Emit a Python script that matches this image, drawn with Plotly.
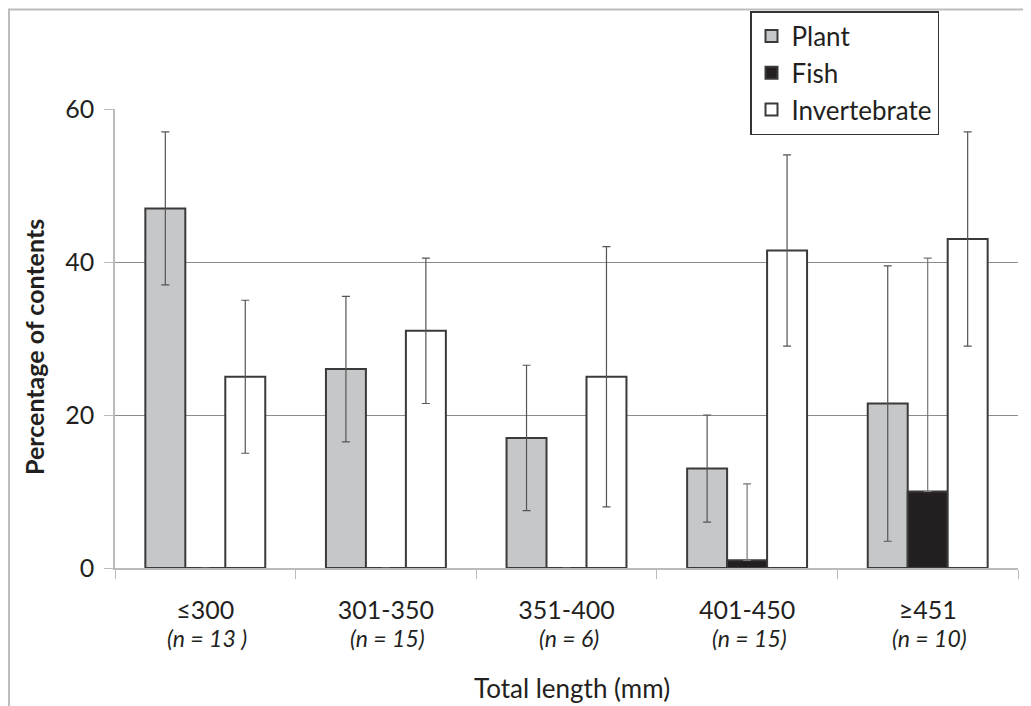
import plotly.graph_objects as go

categories = ["≤300", "301-350", "351-400", "401-450", "≥451"]
n_labels = ["(n = 13 )", "(n = 15)", "(n = 6)", "(n = 15)", "(n = 10)"]

plant = [47, 26, 17, 13, 21.5]
plant_err = [10, 9.5, 9.5, 7, 18]
fish = [0, 0, 0, 1, 10]
fish_err_plus = [0, 0, 0, 10, 30.5]
invert = [25, 31, 25, 41.5, 43]
invert_err = [10, 9.5, 17, 12.5, 14]

FONT = "Lato"
TXT = "#231f20"
OFF = 8  # page body margin
W, H = 1031 - OFF, 706 - OFF
L, T = 115 - OFF, 109 - OFF
R = W - (1018 - OFF)
B = H - (568 - OFF)
PW, PH = W - L - R, H - T - B


def px_x(px):  # reference screenshot x -> paper
    return (px - OFF - L) / PW


def px_y(py):  # reference screenshot y -> paper
    return (H - B - (py - OFF)) / PH


fig = go.Figure()
outline = dict(color="#3a3a3a", width=2)
err_style = dict(type="data", symmetric=True, color="#555555", thickness=1.2, width=4)

fig.add_trace(go.Bar(name="Plant", x=categories, y=plant, marker=dict(color="#c6c7c9", line=outline),
                     error_y=dict(array=plant_err, **err_style), legendgroup="p"))
fig.add_trace(go.Bar(name="Fish", x=categories, y=fish, marker=dict(color="#231f20", line=outline),
                     error_y=dict(type="data", symmetric=False, array=fish_err_plus,
                                  arrayminus=[min(v, 0) for v in fish],
                                  color="#777777", thickness=1.2, width=4), legendgroup="f"))
fig.add_trace(go.Bar(name="Invertebrate", x=categories, y=invert, marker=dict(color="#ffffff", line=outline),
                     error_y=dict(array=invert_err, **err_style), legendgroup="i"))

annotations = []
for c, n in zip(categories, n_labels):
    annotations.append(dict(x=c, xref="x", y=px_y(638), yref="paper", yanchor="middle", text=f"<i>{n}</i>",
                            showarrow=False, xshift=2, font=dict(family=FONT, size=23, color=TXT)))
annotations.append(dict(x=px_x(572), xref="paper", y=px_y(688), yref="paper", yanchor="middle",
                        text="Total length (mm)",
                        showarrow=False, font=dict(family=FONT, size=26, color=TXT)))
annotations.append(dict(x=px_x(34), xref="paper", y=px_y(347), yref="paper", xanchor="center", yanchor="middle",
                        text="<b>Percentage of contents</b>",
                        textangle=-90, showarrow=False, font=dict(family=FONT, size=25, color=TXT)))

shapes = [
    dict(type="line", xref="paper", yref="paper", x0=px_x(8), x1=px_x(1031), y0=px_y(9.5), y1=px_y(9.5),
         line=dict(color="#bdbdbd", width=2)),
    dict(type="line", xref="paper", yref="paper", x0=px_x(9), x1=px_x(9), y0=px_y(9.5), y1=px_y(706),
         line=dict(color="#bdbdbd", width=2)),
]

fig.update_layout(
    width=W, height=H,
    margin=dict(l=L, r=R, t=T, b=B, pad=0, autoexpand=False),
    paper_bgcolor="white", plot_bgcolor="white",
    barmode="group", bargap=0.336, bargroupgap=0,
    font=dict(family=FONT, color=TXT),
    showlegend=True,
    legend=dict(x=px_x(750), y=px_y(11), xanchor="left", yanchor="top",
                bgcolor="white", bordercolor="#333333", borderwidth=1.5,
                font=dict(family=FONT, size=26, color=TXT), tracegroupgap=7,
                traceorder="normal"),
    annotations=annotations,
    shapes=shapes,
)
fig.update_xaxes(type="category", showline=True, linecolor="#bbbbbb", linewidth=1.5,
                 ticks="outside", tickson="boundaries", ticklen=9, tickcolor="#bbbbbb",
                 showgrid=False, tickfont=dict(family=FONT, size=25, color=TXT),
                 ticklabelstandoff=19)
fig.update_yaxes(range=[0, 60], tickvals=[0, 20, 40, 60], showline=True, linecolor="#bbbbbb",
                 linewidth=1.5, ticks="outside", ticklen=9, tickcolor="#bbbbbb",
                 showgrid=True, gridcolor="#8c8c8c", gridwidth=1, zeroline=False,
                 tickfont=dict(family=FONT, size=25, color=TXT), ticklabelstandoff=5)

fig.write_html("out.html")
